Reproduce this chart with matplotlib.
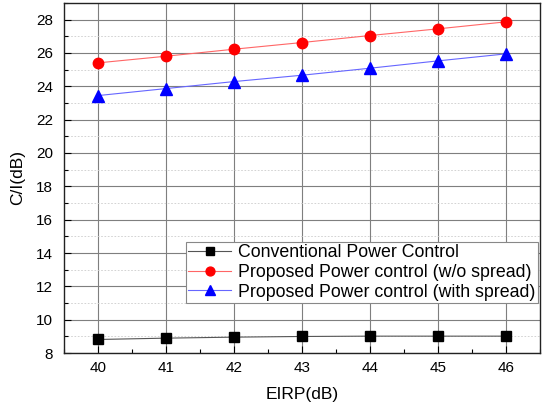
import matplotlib
matplotlib.use("Agg")
import matplotlib.pyplot as plt
from matplotlib.ticker import MultipleLocator

eirp = [40, 41, 42, 43, 44, 45, 46]
conventional = [8.82, 8.90, 8.96, 9.00, 9.02, 9.02, 9.02]
proposed_wo = [25.40, 25.80, 26.22, 26.62, 27.04, 27.44, 27.86]
proposed_with = [23.44, 23.86, 24.28, 24.66, 25.08, 25.52, 25.94]
labels = ["Conventional Power Control",
          "Proposed Power control (w/o spread)",
          "Proposed Power control (with spread)"]

plt.rcParams['font.family'] = ['Liberation Sans', 'DejaVu Sans']

fig = plt.figure(figsize=(5.42, 4.05), dpi=100)
ax = fig.add_axes([0.118, 0.128, 0.878, 0.865])

ax.plot(eirp, conventional, color='#555555', lw=0.8, marker='s', ms=6.5,
        mfc='black', mec='black', label=labels[0], zorder=3)
ax.plot(eirp, proposed_wo, color='#ff6666', lw=0.8, marker='o', ms=7.5,
        mfc='red', mec='red', label=labels[1], zorder=3)
ax.plot(eirp, proposed_with, color='#6666ff', lw=0.8, marker='^', ms=8,
        mfc='blue', mec='blue', label=labels[2], zorder=3)

ax.set_xlim(39.5, 46.5)
ax.set_ylim(8, 29)
ax.xaxis.set_major_locator(MultipleLocator(1))
ax.xaxis.set_minor_locator(MultipleLocator(0.5))
ax.yaxis.set_major_locator(MultipleLocator(2))
ax.yaxis.set_minor_locator(MultipleLocator(1))

ax.grid(True, which='major', color='#7f7f7f', lw=0.8)
ax.grid(True, which='minor', axis='y', color='#cccccc', lw=0.6, ls=(0, (2, 2)))
ax.set_axisbelow(True)

ax.tick_params(which='both', direction='in', labelsize=11, colors='black')
ax.tick_params(which='major', length=5, width=0.8)
ax.tick_params(which='minor', length=3, width=0.8)
ax.tick_params(axis='x', pad=6)
ax.tick_params(axis='y', pad=8)
for s in ax.spines.values():
    s.set_color('#222222')
    s.set_linewidth(1.0)

ax.set_xlabel("EIRP(dB)", fontsize=12.5, labelpad=8)
ax.set_ylabel("C/I(dB)", fontsize=12.5, labelpad=8)

leg = ax.legend(loc='lower right', bbox_to_anchor=(1.0, 0.137), fontsize=12.8,
                frameon=True, fancybox=False, edgecolor='#888888',
                framealpha=1, borderpad=0.15, labelspacing=0.15,
                handlelength=2.4, handletextpad=0.4, borderaxespad=0.1,
                markerscale=0.85)
leg.get_frame().set_linewidth(0.8)

fig.savefig("out.png", dpi=100)
